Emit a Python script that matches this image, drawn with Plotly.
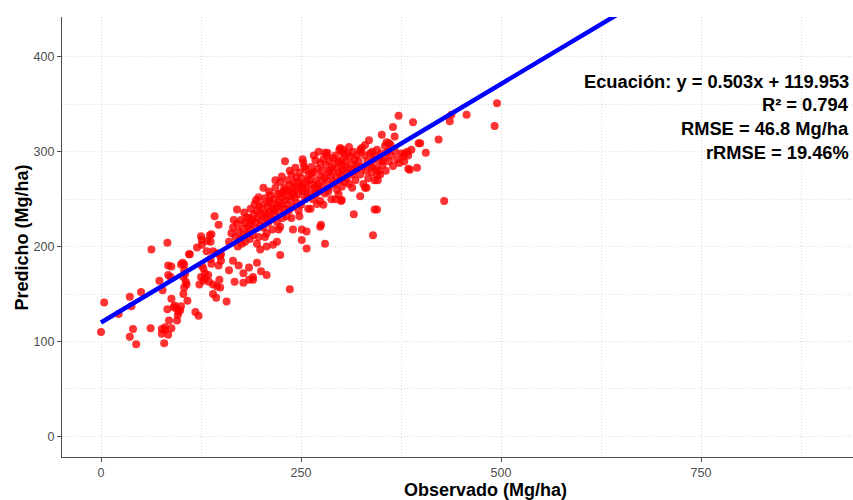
import plotly.graph_objects as go

# ---- regression parameters (from the chart text) ----
slope = 0.503
intercept = 119.953
line_x = [0, 1000]

eq_lines = [
    "Ecuación: y = 0.503x + 119.953",
    "R² = 0.794",
    "RMSE = 46.8 Mg/ha",
    "rRMSE = 19.46%",
]
eq_y = [374, 350, 325, 299]

x_ticks = [0, 250, 500, 750]
y_ticks = [0, 100, 200, 300, 400]

sparse_pts = [
    (0,110),(4,141),(22,129),(36,147),(36,105),(40,113),(44,97),(38,137),(50,152),(62,114),
    (63,197),(83,204),(73,164),(77,154),(88,145),(83,134),(94,135),(97,131),(92,138),(99,133),
    (96,128),(85,122),(95,122),(108,143),(118,131),(122,127),(76,108),(80,112),(84,107),(88,114),
    (80,115),(76,113),(79,98),(88,179),(100,181),(104,181),(84,170),(87,168),(102,183),(104,175),
    (103,168),(106,163),(107,160),(105,171),(111,192),(120,199),(126,202),(126,207),(136,212),(133,206),
    (125,168),(130,172),(128,177),(126,180),(134,170),(138,182),(140,160),(148,165),(149,157),(137,187),
    (149,190),(145,193),(150,192),(140,195),(132,195),(84,180),(110,192),(125,211),(138,213),(137,205),
    (142,232),(147,223),(123,160),(128,164),(130,167),(135,163),(140,150),(145,158),(144,146),(157,142),
    (91,136),(100,137),(103,150),(104,157),(150,185),(147,180),(160,175),(165,185),(172,180),(178,172),
    (185,178),(190,168),(195,183),(200,174),(207,170),(185,165),(167,163),(178,162),(190,165),(180,205),
    (195,203),(207,200),(215,202),(220,205),(170,239),(224,191),(199,197),(236,155),(257,198),(280,203),
    (275,223),(251,207),(224,221),(240,218),(251,218),(257,216),(274,221),(297,255),(300,248),(301,249),
    (316,234),(324,253),(330,262),(342,239),(340,212),(345,239),(429,248),(342,270),(347,280),(345,275),
    (230,290),(280,299),(299,304),(301,300),(303,302),(324,302),(330,307),(335,312),(339,300),(352,290),
    (357,310),(362,307),(360,309),(351,318),(367,316),(365,326),(372,338),(390,331),(397,309),(378,295),
    (383,300),(388,302),(386,281),(395,283),(384,282),(399,309),(406,299),(422,313),(436,332),(438,339),
    (457,339),(495,351),(492,327),(380,298),(384,296),
]

dense_pts = [
    (160,205),(163,214),(165,220),(168,210),(170,224),(172,216),(174,208),(175,228),(177,219),(178,212),
    (180,225),(182,231),(183,214),(171,200),(166,228),(179,236),(184,222),(176,203),
    (185,230),(186,218),(187,240),(188,224),(190,212),(191,234),(192,245),(193,226),(194,219),(195,238),
    (196,230),(197,210),(198,242),(199,222),(200,235),(189,228),(186,208),(194,249),(197,252),
    (201,228),(202,244),(203,220),(204,236),(205,251),(206,230),(207,214),(208,242),(209,225),(210,258),
    (211,237),(212,246),(213,229),(214,218),(215,240),(203,262),(208,233),(212,254),(205,210),(210,248),
    (216,250),(217,232),(218,262),(219,241),(220,226),(221,255),(222,247),(223,236),(224,268),(225,243),
    (226,252),(227,230),(228,258),(229,240),(230,249),(218,270),(222,218),(226,274),(229,262),(216,238),
    (221,244),(224,256),
    (231,260),(232,244),(233,270),(234,253),(235,238),(236,265),(237,249),(238,276),(239,257),(240,242),
    (241,268),(242,252),(243,283),(244,261),(245,246),(232,232),(236,280),(240,262),(244,273),(238,230),
    (233,258),(241,255),
    (246,268),(247,255),(248,278),(249,262),(250,244),(251,272),(252,258),(253,288),(254,266),(255,250),
    (256,281),(257,262),(258,270),(259,240),(260,276),(248,232),(252,292),(256,258),(250,264),(254,284),
    (258,252),(247,238),
    (261,270),(262,256),(263,284),(264,265),(265,250),(266,278),(267,262),(268,291),(269,270),(270,245),
    (271,282),(272,266),(273,258),(274,288),(275,274),(262,240),(266,296),(270,262),(274,248),(263,277),
    (268,255),(272,300),
    (276,280),(277,264),(278,292),(279,272),(280,256),(281,286),(282,270),(283,299),(284,278),(285,262),
    (286,290),(287,275),(288,250),(289,284),(290,268),(278,244),(282,296),(286,280),(290,293),(284,258),
    (291,282),(292,266),(293,296),(294,274),(295,260),(296,288),(297,278),(298,302),(299,270),(300,285),
    (301,263),(302,292),(303,276),(304,298),(305,268),(293,250),(297,290),(301,280),(305,284),
    (306,290),(307,272),(308,298),(309,282),(310,266),(311,295),(312,278),(313,287),(314,262),(315,300),
    (316,280),(317,292),(318,270),(319,285),(320,296),(310,305),(315,276),(320,282),
    (322,290),(324,276),(325,300),(327,284),(328,266),(330,296),(331,280),(333,290),(334,272),(336,298),
    (337,286),(338,278),(340,292),(326,304),(332,262),(339,284),
    (342,296),(344,282),(345,302),(347,290),(349,276),(350,298),(352,286),(354,294),(356,280),(358,300),
    (360,290),(346,270),(355,306),
    (362,296),(365,285),(368,300),(370,292),(373,288),(376,298),(379,290),
]

observed = [p[0] for p in sparse_pts + dense_pts]
predicted = [p[1] for p in sparse_pts + dense_pts]
line_y = [slope * v + intercept for v in line_x]

fig = go.Figure()
fig.add_trace(go.Scatter(
    x=observed, y=predicted, mode="markers",
    marker=dict(size=8, color="rgba(255,0,0,0.8)", line=dict(width=0)),
    showlegend=False, hoverinfo="skip"))
fig.add_trace(go.Scatter(
    x=line_x, y=line_y, mode="lines",
    line=dict(color="#0000FF", width=4.5),
    showlegend=False, hoverinfo="skip"))

GRID = "#d9d9d9"
DASH = "1px,2px"
axis_common = dict(
    showline=True, linecolor="#4d4d4d", linewidth=1.2,
    ticks="outside", ticklen=4, tickcolor="#4d4d4d", tickwidth=1,
    tickfont=dict(family="Liberation Sans, Arial", size=12.5, color="#4d4d4d"),
    showgrid=True, gridcolor=GRID, gridwidth=1, griddash=DASH,
    zeroline=False, automargin=False,
)

fig.update_xaxes(
    range=[-48.75, 940], tickvals=x_ticks, ticktext=[str(v) for v in x_ticks],
    minor=dict(tickvals=[125, 375, 625, 875], showgrid=True, gridcolor=GRID,
               griddash=DASH, gridwidth=1, ticks=""),
    **axis_common)
fig.update_yaxes(
    range=[-21.8, 442], tickvals=y_ticks, ticktext=[str(v) for v in y_ticks],
    minor=dict(tickvals=[50, 150, 250, 350], showgrid=True, gridcolor=GRID,
               griddash=DASH, gridwidth=1, ticks=""),
    **axis_common)

annotations = []
for txt, yy in zip(eq_lines, eq_y):
    annotations.append(dict(
        x=0.9975, xref="paper", y=yy, yref="y", text="<b>" + txt + "</b>",
        showarrow=False, xanchor="right", yanchor="middle",
        font=dict(family="Liberation Sans, Arial", size=18.3, color="black")))
annotations.append(dict(
    x=0.536, xref="paper", y=-0.076, yref="paper", text="<b>Observado (Mg/ha)</b>",
    showarrow=False, xanchor="center", yanchor="middle",
    font=dict(family="Liberation Sans, Arial", size=18, color="black")))
annotations.append(dict(
    x=-0.05, xref="paper", y=0.5, yref="paper", text="<b>Predicho (Mg/ha)</b>",
    showarrow=False, xanchor="center", yanchor="middle", textangle=-90,
    font=dict(family="Liberation Sans, Arial", size=18, color="black")))

fig.update_layout(
    width=853, height=500,
    margin=dict(l=62, r=0, t=17, b=43),
    plot_bgcolor="white", paper_bgcolor="white",
    annotations=annotations,
)

fig.write_html(
    "out.html",
    config={"displayModeBar": False},
    post_script="document.body.style.margin='0';document.body.style.overflow='hidden';",
)
